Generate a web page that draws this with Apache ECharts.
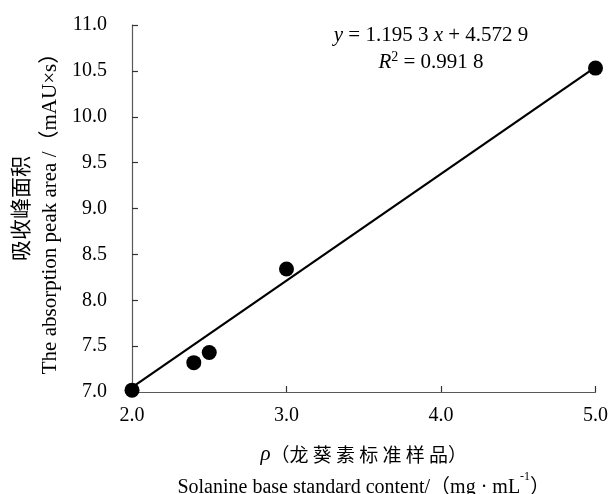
<!DOCTYPE html>
<html>
<head>
<meta charset="utf-8">
<script src="https://cdn.jsdelivr.net/npm/echarts@6/dist/echarts.min.js"></script>
<style>
  html, body { margin: 0; padding: 0; background: #fff; }
  #main { width: 610px; height: 494px; }
</style>
</head>
<body>
<div id="main"></div>
<script>
// 标准曲线数据
var concList = [2.0, 2.4, 2.5, 3.0, 5.0];
var areaList = [7.02, 7.32, 7.43, 8.34, 10.53];
// 趋势线两端
var fitX = [2.0, 5.0];
var fitY = [7.05, 10.54];

var FONT = "'Liberation Serif', 'Times New Roman', 'Noto Sans CJK SC', serif";
var CJK = "'Noto Sans CJK SC', sans-serif";

var myChart = echarts.init(document.getElementById('main'));

var points = concList.map(function (x, i) { return [x, areaList[i]]; });
var fitLine = fitX.map(function (x, i) { return [x, fitY[i]]; });

var option = {
    animation: false,
    backgroundColor: '#fff',
    textStyle: { fontFamily: FONT },
    grid: {
        left: 132,
        right: 14.5,
        top: 25,
        bottom: 102,
        containLabel: false,
        outerBoundsMode: 'none'
    },
    xAxis: {
        type: 'value',
        min: 2,
        max: 5,
        interval: 1,
        axisLine: { lineStyle: { color: '#595959', width: 1.2 } },
        axisTick: { inside: true, length: 6, lineStyle: { color: '#333', width: 1.2 } },
        splitLine: { show: false },
        axisLabel: {
            color: '#000',
            fontSize: 20,
            fontFamily: FONT,
            margin: 14,
            formatter: function (v) { return v.toFixed(1); }
        },
        name: '{i|ρ}{c|（龙 葵 素 标 准 样 品）}\n{e|Solanine base standard content/（mg · mL}{s|-1}{e|）}',
        nameLocation: 'middle',
        nameGap: 46,
        nameTextStyle: {
            color: '#000',
            lineHeight: 33,
            rich: {
                i: { fontFamily: FONT, fontStyle: 'italic', fontSize: 21, color: '#000', lineHeight: 33 },
                c: { fontFamily: CJK, fontSize: 19, color: '#000', lineHeight: 33 },
                e: { fontFamily: FONT, fontSize: 20, color: '#000', lineHeight: 33 },
                s: { fontFamily: FONT, fontSize: 12, color: '#000', verticalAlign: 'top', lineHeight: 24 }
            }
        }
    },
    yAxis: {
        type: 'value',
        min: 7,
        max: 11,
        interval: 0.5,
        axisLine: { show: true, lineStyle: { color: '#595959', width: 1.2 } },
        axisTick: { show: true, inside: true, length: 6, lineStyle: { color: '#333', width: 1.2 } },
        splitLine: { show: false },
        axisLabel: {
            color: '#000',
            fontSize: 20,
            fontFamily: FONT,
            margin: 25,
            formatter: function (v) { return v.toFixed(1); }
        },
        name: '{c|吸收峰面积}\n{e|The absorption peak area /（mAU×s）}',
        nameLocation: 'middle',
        nameGap: 67,
        nameMoveOverlap: false,
        nameRotate: 90,
        nameTextStyle: {
            color: '#000',
            lineHeight: 30,
            rich: {
                c: { fontFamily: CJK, fontSize: 21, color: '#000', lineHeight: 30 },
                e: { fontFamily: FONT, fontSize: 21, color: '#000', lineHeight: 30 }
            }
        }
    },
    graphic: [{
        type: 'text',
        x: 431,
        y: 35,
        style: {
            text: '{i|y} = 1.195 3 {i|x} + 4.572 9',
            fontFamily: FONT,
            fontSize: 21,
            fill: '#000',
            align: 'center',
            verticalAlign: 'middle',
            rich: { i: { fontStyle: 'italic', fontFamily: FONT, fontSize: 21 } }
        }
    }, {
        type: 'text',
        x: 431,
        y: 62,
        style: {
            text: '{i|R}{s|2} = 0.991 8',
            fontFamily: FONT,
            fontSize: 21,
            fill: '#000',
            align: 'center',
            verticalAlign: 'middle',
            rich: {
                i: { fontStyle: 'italic', fontFamily: FONT, fontSize: 21, lineHeight: 24 },
                s: { fontFamily: FONT, fontSize: 14, verticalAlign: 'top', lineHeight: 20 }
            }
        }
    }],
    series: [{
        name: 'fit',
        type: 'line',
        data: fitLine,
        symbol: 'none',
        lineStyle: { color: '#000', width: 2.2 },
        z: 2
    }, {
        name: 'data',
        type: 'scatter',
        data: points,
        symbol: 'circle',
        symbolSize: 15,
        itemStyle: { color: '#000', opacity: 1 },
        z: 3
    }]
};

myChart.setOption(option);
</script>
</body>
</html>
